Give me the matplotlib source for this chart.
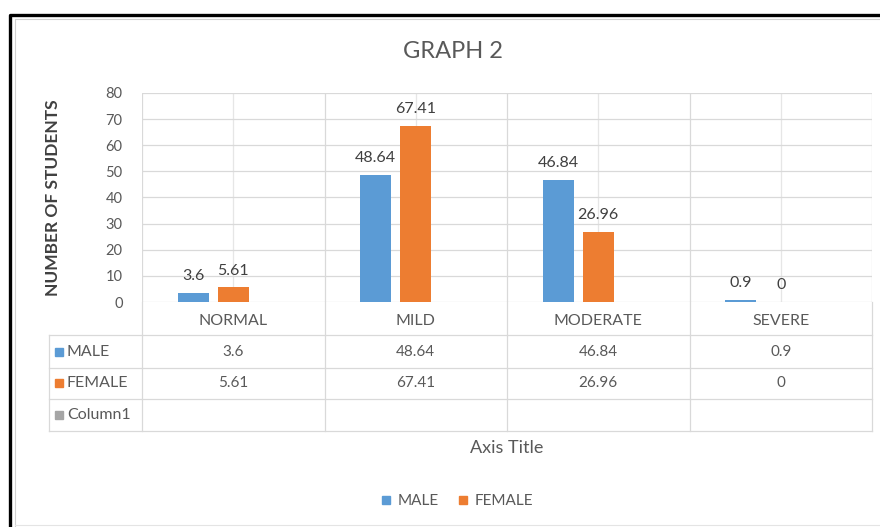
import numpy as np
import matplotlib.pyplot as plt
import matplotlib.transforms as mtransforms
from matplotlib.lines import Line2D

plt.rcParams["font.family"] = ["Lato", "DejaVu Sans"]

categories = ["NORMAL", "MILD", "MODERATE", "SEVERE"]
male = [3.6, 48.64, 46.84, 0.9]
female = [5.61, 67.41, 26.96, 0]
male_labels = ["3.6", "48.64", "46.84", "0.9"]
female_labels = ["5.61", "67.41", "26.96", "0"]
series_names = ["MALE", "FEMALE", "Column1"]

colors = ["#5B9BD5", "#ED7D31", "#A5A5A5"]
text_color = "#595959"
grid_color = "#D9D9D9"

W, H = 880, 527
fig = plt.figure(figsize=(W / 100, H / 100), dpi=100)

# overlay in pixel coordinates for the frame and the data table
over = fig.add_axes([0, 0, 1, 1])
over.set_xlim(0, W)
over.set_ylim(H, 0)
over.axis("off")

# chart frame
over.plot([10, 10, W + 5], [H + 5, 14.5, 14.5], color="black", lw=2.4, solid_capstyle="butt")
over.plot([15, 15, W + 5], [H + 5, 18.5, 18.5], color="#D0D0D0", lw=0.8)
over.plot([15, W + 5], [525, 525], color="#E4E4E4", lw=0.8)

# plot area
x0, x1, ytop, ybot = 142, 872, 93, 302
ax = fig.add_axes([x0 / W, 1 - ybot / H, (x1 - x0) / W, (ybot - ytop) / H])
ax.set_zorder(2)
ax.patch.set_alpha(0)
x = np.arange(len(categories))
width = 0.17
offset = 0.22
ax.bar(x - offset, male, width=width, color=colors[0], zorder=3)
ax.bar(x, female, width=width, color=colors[1], zorder=3)

for i in range(len(categories)):
    ax.annotate(male_labels[i], (x[i] - offset, male[i]), xytext=(0, 7),
                textcoords="offset points", ha="center", va="bottom",
                fontsize=11.5, color="#404040")
    ax.annotate(female_labels[i], (x[i], female[i]), xytext=(0, 7),
                textcoords="offset points", ha="center", va="bottom",
                fontsize=11.5, color="#404040")

ax.set_xlim(-0.5, len(categories) - 0.5)
ax.set_ylim(0, 80)
ax.set_yticks(np.arange(0, 81, 10))
ax.tick_params(axis="y", length=0, pad=14, labelsize=10.5, labelcolor=text_color)
ax.set_xticks([])
for s in ax.spines.values():
    s.set_visible(False)
ax.yaxis.grid(True, color=grid_color, lw=0.9, zorder=0)
ax.set_axisbelow(True)
for i in range(len(categories)):
    ax.axvline(i, color="#E6E6E6", lw=0.9, zorder=0)
for b in np.arange(-0.5, len(categories), 1.0):
    ax.axvline(b, color=grid_color, lw=0.9, zorder=0)

ax.set_ylabel("NUMBER OF STUDENTS", fontsize=12.5, color="#404040",
              fontweight="bold")
ax.yaxis.set_label_coords(-0.111, 0.5)

fig.text(453 / W, 1 - 52 / H, "GRAPH 2", ha="center", va="center",
         fontsize=17, color=text_color)

# data table below the axis
trans = mtransforms.blended_transform_factory(ax.transData, over.transData)
row_lines = [335, 368, 399, 431]
tleft = 49
for yl in row_lines:
    over.plot([tleft, x1], [yl, yl], color=grid_color, lw=0.9)
over.plot([tleft, tleft], [row_lines[0], row_lines[-1]], color=grid_color, lw=0.9)
for b in np.arange(-0.5, len(categories), 1.0):
    over.plot([b, b], [ybot, row_lines[-1]], color=grid_color, lw=0.9, transform=trans)

for i, cat in enumerate(categories):
    over.text(i, 321, cat, transform=trans, ha="center", va="center",
              fontsize=11.5, color=text_color)
    over.text(i, 351.5, male_labels[i], transform=trans, ha="center", va="center",
              fontsize=11, color=text_color)
    over.text(i, 383, female_labels[i], transform=trans, ha="center", va="center",
              fontsize=11, color=text_color)

row_y = [351.5, 383, 415]
for name, c, yy in zip(series_names, colors, row_y):
    over.plot([59], [yy], marker="s", ms=6, color=c, lw=0)
    over.text(67, yy, name, ha="left", va="center", fontsize=11.5, color=text_color)

fig.text((x0 + x1) / 2 / W, 1 - 448 / H, "Axis Title", ha="center", va="center",
         fontsize=13, color=text_color)

handles = [Line2D([], [], marker="s", ms=6, lw=0, color=colors[0]),
           Line2D([], [], marker="s", ms=6, lw=0, color=colors[1])]
leg = fig.legend(handles, series_names[:2], loc="center",
                 bbox_to_anchor=(457 / W, 1 - 501 / H), ncol=2, frameon=False,
                 fontsize=11, handlelength=0.7, handletextpad=0.45, columnspacing=1.2)
for t in leg.get_texts():
    t.set_color(text_color)

fig.savefig("out.png", dpi=100)
